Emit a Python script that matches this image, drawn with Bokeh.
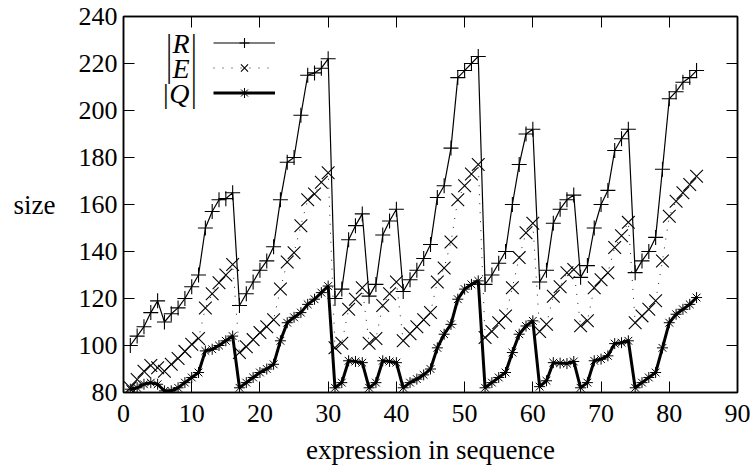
from bokeh.plotting import figure
from bokeh.models import (Range1d, LinearAxis, Legend, LegendItem, Label,
                          FixedTicker, CustomJSTickFormatter, ColumnDataSource)
from bokeh.embed import file_html
from bokeh.resources import INLINE

# ---- data -------------------------------------------------------------
expr_index = list(range(1, 85))

size_R = [100, 104, 108, 114, 119, 110, 113.5, 116, 120, 125,
          130, 150, 157, 162, 162.5, 165, 117, 122, 127, 132,
          136, 142, 162, 178, 180, 198, 215, 216, 218, 222,
          120, 124, 145, 151, 156, 121, 126, 147, 153, 158,
          123, 128, 132, 137, 143, 163, 168, 184, 214, 217,
          220, 223, 126, 130, 135, 140, 160, 177, 190, 192,
          127, 132, 152, 158, 162, 164, 129, 134, 150, 160,
          166, 183, 188, 192, 131, 136, 140, 146, 175, 205,
          208, 212, 214, 217]

size_E = [82, 85.5, 89, 91.5, 90.5, 89, 92, 94.5, 97.5, 100.5,
          103, 116, 122, 126.7, 130, 134.5, 97, 99.5, 102.5, 105.5,
          108, 111, 124, 135.5, 139.5, 151, 162, 164.5, 169.5, 173.5,
          99, 101, 115.4, 119.7, 124.6, 101, 103, 117, 122, 127,
          102, 105, 108, 111, 114, 127, 133, 144, 162, 168,
          173, 177, 103.4, 106, 109.7, 112.6, 124.6, 137.4, 148, 152,
          106, 109, 121, 125, 131, 132.3, 108.4, 110.5, 124.6, 128,
          131, 141.7, 146.7, 152.4, 109.7, 112.6, 115.4, 119, 136, 155,
          161.4, 165, 168.5, 172]

size_Q = [81.4, 82, 83.5, 84.2, 83.5, 80.7, 80.7, 82, 84.2, 86.4,
          88.5, 97.7, 98.4, 100, 102, 104, 82, 84.2, 86.4, 88.5,
          90, 92, 102, 109.7, 112, 114, 117.5, 119.7, 122.5, 125.3,
          82, 84.2, 93.5, 93.2, 92.7, 82, 84.2, 93.5, 93.2, 92.7,
          82, 84.2, 85.7, 87.5, 90, 99, 104.8, 109, 119.7, 124,
          126, 127.5, 82, 84.2, 86.4, 88.5, 97, 104.8, 108.3, 110.5,
          82.5, 85, 92.7, 92.5, 92.3, 93.2, 82, 84.2, 93.5, 94.2,
          95.6, 100.8, 101.2, 102, 82, 84.2, 86.4, 88.5, 99, 109.7,
          113.3, 115.4, 117.5, 120.4]

x_ticks = list(range(0, 91, 10))
y_ticks = list(range(80, 241, 20))
legend_labels = ["|R|", "|E|", "|Q|"]

# ---- figure -----------------------------------------------------------
FONT = "Liberation Serif"

p = figure(width=753, height=470, output_backend="svg", toolbar_location=None,
           x_range=Range1d(0, 90), y_range=Range1d(80, 240),
           min_border_left=123, min_border_right=16, min_border_top=16,
           min_border_bottom=78)
p.xgrid.visible = False
p.ygrid.visible = False
p.outline_line_color = "black"
p.outline_line_width = 1.5
p.background_fill_color = "white"
p.border_fill_color = "white"

for ax, ticks in ((p.xaxis[0], x_ticks), (p.yaxis[0], y_ticks)):
    ax.ticker = FixedTicker(ticks=ticks)
    ax.major_tick_in = 11
    ax.major_tick_out = 0
    ax.minor_tick_line_color = None
    ax.axis_line_color = "black"
    ax.axis_line_width = 1.5
    ax.major_tick_line_width = 1
    ax.major_label_text_font = FONT
    ax.major_label_text_font_size = "26px"
    ax.major_label_text_color = "black"
    ax.axis_label_text_font = FONT
    ax.axis_label_text_font_size = "27px"
    ax.axis_label_text_font_style = "normal"
    ax.axis_label_text_color = "black"

p.xaxis[0].axis_label = "expression in sequence"
p.xaxis[0].major_label_standoff = 12
p.xaxis[0].axis_label_standoff = 10
p.yaxis[0].axis_label = "size"
p.yaxis[0].axis_label_orientation = "horizontal"
p.yaxis[0].major_label_standoff = 6
p.yaxis[0].axis_label_standoff = 20

blank = CustomJSTickFormatter(code="return ''")
for ticks, side in ((x_ticks, "above"), (y_ticks, "right")):
    ax = LinearAxis(ticker=FixedTicker(ticks=ticks), formatter=blank,
                    major_tick_in=11, major_tick_out=0,
                    minor_tick_line_color=None, axis_line_color="black",
                    axis_line_width=1.5, major_label_text_font_size="0px",
                    major_label_standoff=0)
    p.add_layout(ax, side)

# ---- series -----------------------------------------------------------
src = ColumnDataSource(dict(x=expr_index, r=size_R, e=size_E, q=size_Q))

r_line = p.line("x", "r", source=src, line_color="black", line_width=1.2)
r_pts = p.scatter("x", "r", source=src, marker="cross", size=15,
                  line_color="black", line_width=1.1)
e_line = p.line("x", "e", source=src, line_color="#222222", line_width=1,
                line_dash="1 8")
e_pts = p.scatter("x", "e", source=src, marker="x", size=18,
                  line_color="black", line_width=1.1)
q_line = p.line("x", "q", source=src, line_color="black", line_width=3)
q_pts = p.scatter("x", "q", source=src, marker="asterisk", size=11,
                  line_color="black", line_width=1)

legend = Legend(items=[LegendItem(label=" ", renderers=[r_line, r_pts]),
                       LegendItem(label=" ", renderers=[e_line, e_pts]),
                       LegendItem(label=" ", renderers=[q_line, q_pts])],
                location=(90, 287), orientation="vertical", padding=0,
                margin=0, spacing=0, glyph_width=62, glyph_height=25,
                label_height=25, label_width=0, label_standoff=0,
                border_line_color=None, background_fill_alpha=0,
                label_text_font_size="1px")
p.add_layout(legend)

for txt, yv in zip(legend_labels, [228.6, 218.0, 207.4]):
    p.add_layout(Label(x=10.8, y=yv, text=txt, text_align="right",
                       text_baseline="middle", text_font=FONT,
                       text_font_style="italic", text_font_size="28px",
                       text_color="black"))

open("out.html", "w").write(file_html(p, INLINE))
